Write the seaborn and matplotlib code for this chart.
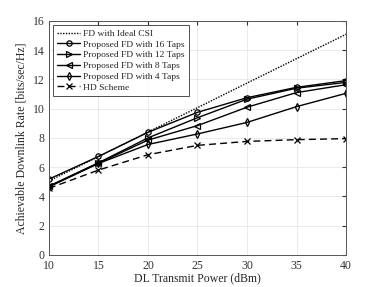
import numpy as np
import pandas as pd
import matplotlib
matplotlib.use("Agg")
import matplotlib.pyplot as plt
import seaborn as sns

power = [10, 15, 20, 25, 30, 35, 40]
ideal_csi = [5.05, 6.72, 8.40, 10.07, 11.75, 13.42, 15.09]
taps_16 = [5.18, 6.73, 8.38, 9.75, 10.75, 11.46, 11.92]
taps_12 = [4.70, 6.30, 8.00, 9.38, 10.65, 11.40, 11.80]
taps_8 = [4.68, 6.27, 7.85, 8.84, 10.10, 11.10, 11.64]
taps_4 = [4.65, 6.25, 7.55, 8.27, 9.06, 10.14, 11.05]
hd_scheme = [4.55, 5.80, 6.85, 7.49, 7.76, 7.88, 7.95]

series = [
    ("FD with Ideal CSI", ideal_csi, (1, 1), None),
    ("Proposed FD with 16 Taps", taps_16, "", "o"),
    ("Proposed FD with 12 Taps", taps_12, "", ">"),
    ("Proposed FD with 8 Taps", taps_8, "", "<"),
    ("Proposed FD with 4 Taps", taps_4, "", "d"),
    ("HD Scheme", hd_scheme, (5, 3), "x"),
]


def main():
    sns.set_style("whitegrid")
    plt.rcParams["font.family"] = ["Liberation Serif", "DejaVu Serif"]

    fig = plt.figure(figsize=(3.82, 2.87), dpi=100)
    ax = fig.add_axes([0.128, 0.112, 0.778, 0.815])

    for name, values, dash, marker in series:
        df = pd.DataFrame({"power": power, "rate": values})
        sns.lineplot(data=df, x="power", y="rate", ax=ax, color="black",
                     linewidth=1.0, marker=marker, markersize=3.8,
                     markerfacecolor="none", markeredgecolor="black",
                     markeredgewidth=0.9, label=name)
        l = ax.lines[-1]
        if dash == "":
            l.set_linestyle("-")
        else:
            l.set_dashes(dash)

    ax.set_xlim(10, 40)
    ax.set_ylim(0, 16)
    ax.set_xticks(range(10, 41, 5))
    ax.set_yticks(range(0, 17, 2))
    ax.set_xlabel("DL Transmit Power (dBm)", fontsize=8.5, labelpad=0)
    ax.set_ylabel("Achievable Downlink Rate [bits/sec/Hz]", fontsize=8.5, labelpad=4)
    ax.tick_params(direction="in", length=3, labelsize=8.5, colors="#333333",
                   top=True, right=True)
    ax.tick_params(axis="x", pad=4)
    ax.tick_params(axis="y", pad=3)
    ax.grid(True, color="#e6e6e6", linewidth=0.6)
    for s in ax.spines.values():
        s.set_color("#555555")
        s.set_linewidth(0.7)

    leg = ax.legend(loc="upper left", fontsize=6.8, frameon=True, fancybox=False,
                    handlelength=2.4, handletextpad=0.3, borderpad=0.45,
                    labelspacing=0.22, borderaxespad=0.45)
    leg.get_frame().set_edgecolor("black")
    leg.get_frame().set_linewidth(0.6)

    fig.savefig("out.png", dpi=100)


if __name__ == "__main__":
    main()
